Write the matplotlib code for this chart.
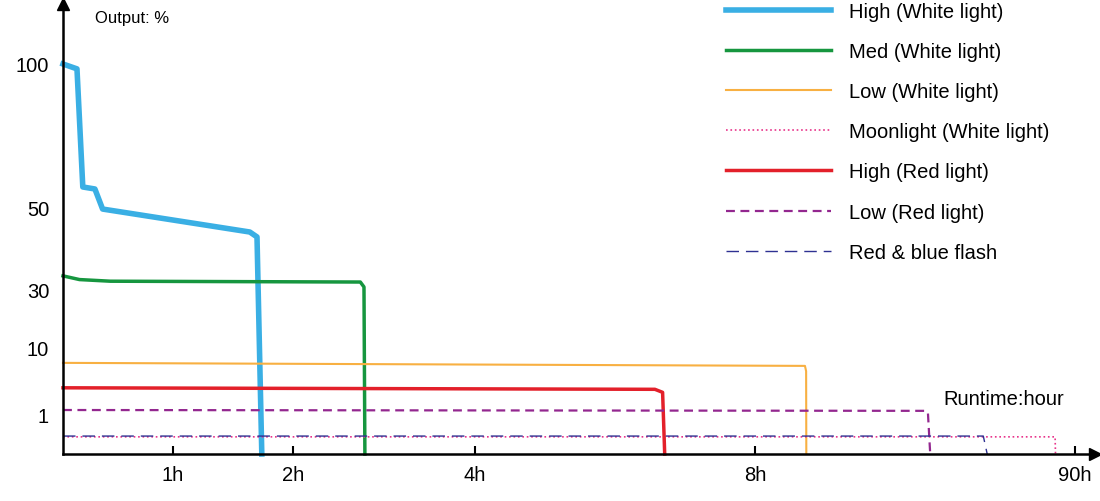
import numpy as np
import matplotlib
matplotlib.use("Agg")
import matplotlib.pyplot as plt

plt.rcParams['font.family'] = ['Liberation Sans', 'DejaVu Sans']

# axis anchors (value -> relative position)
x_anchor_val = [0, 1, 2, 4, 8, 90, 100]
x_anchor_pos = [0, 110, 230, 412, 692, 1012, 1032]
y_anchor_val = [0, 1, 10, 30, 50, 100, 120]
y_anchor_pos = [0, 39, 107, 165, 247, 390, 450]

x_ticks = [1, 2, 4, 8, 90]
x_tick_labels = ["1h", "2h", "4h", "8h", "90h"]
y_ticks = [1, 10, 30, 50, 100]
y_tick_labels = ["1", "10", "30", "50", "100"]

series = [
    ("High (White light)", "#3aafe4", "-", 4.0,
     [0, 0.127, 0.18, 0.29, 0.36, 1.64, 1.70, 1.74],
     [100, 98.3, 57, 56.3, 49.5, 43.9, 42.7, 0]),
    ("Med (White light)", "#16963f", "-", 2.5,
     [0, 0.15, 0.43, 2.74, 2.78, 2.79],
     [33.2, 32.3, 31.9, 31.7, 30.5, 0]),
    ("Low (White light)", "#f8b042", "-", 1.5,
     [0, 20.8, 21.1, 21.15],
     [7.9, 7.5, 6.8, 0]),
    ("Moonlight (White light)", "#e8338a", ":", 1.2,
     [0, 84.9, 85.0],
     [0.44, 0.44, 0]),
    ("High (Red light)", "#e3202a", "-", 2.5,
     [0, 6.57, 6.68, 6.71],
     [4.6, 4.4, 4.0, 0]),
    ("Low (Red light)", "#93278f", (0, (4, 2.5)), 1.6,
     [0, 51.6, 52.3, 52.9],
     [1.66, 1.55, 1.4, 0]),
    ("Red & blue flash", "#2e3192", (0, (9, 5)), 1.0,
     [0, 66.5, 67.5],
     [0.46, 0.46, 0]),
]

def fx(v): return np.interp(v, x_anchor_val, x_anchor_pos)
def ix(p): return np.interp(p, x_anchor_pos, x_anchor_val)
def fy(v): return np.interp(v, y_anchor_val, y_anchor_pos)
def iy(p): return np.interp(p, y_anchor_pos, y_anchor_val)

fig = plt.figure(figsize=(11, 5.02), dpi=100)
ax = fig.add_axes([63/1100, 47/502, 1032/1100, 450/502])
ax.set_xscale("function", functions=(fx, ix))
ax.set_yscale("function", functions=(fy, iy))
ax.set_xlim(0, 100)
ax.set_ylim(0, 120)

for name, c, ls, lw, xs, ys in series:
    ax.plot(xs, ys, color=c, linestyle=ls, linewidth=lw, label=name, clip_on=False)

for s in ["top", "right"]:
    ax.spines[s].set_visible(False)
for s in ["left", "bottom"]:
    ax.spines[s].set_linewidth(1.8)
ax.plot(1, 0, ">k", ms=9, transform=ax.transAxes, clip_on=False)
ax.plot(0, 1, "^k", ms=9, transform=ax.transAxes, clip_on=False)

ax.set_xticks(x_ticks)
ax.set_xticklabels(x_tick_labels, fontsize=14.5)
ax.set_yticks(y_ticks)
ax.set_yticklabels(y_tick_labels, fontsize=14.5)
ax.tick_params(axis="x", direction="in", length=6, width=1.5, pad=8)
ax.tick_params(axis="y", length=0, pad=10)
ax.minorticks_off()

fig.text(95/1100, 1 - 18/502, "Output: %", fontsize=12, va="center")
fig.text(943/1100, 1 - 400/502, "Runtime:hour", fontsize=14.5, va="center")

leg = ax.legend(loc="upper left", bbox_to_anchor=(0.625, 1.045), frameon=False,
                fontsize=14.5, handlelength=5.2, handletextpad=0.9,
                labelspacing=1.05)
fig.savefig("out.png", dpi=100)
